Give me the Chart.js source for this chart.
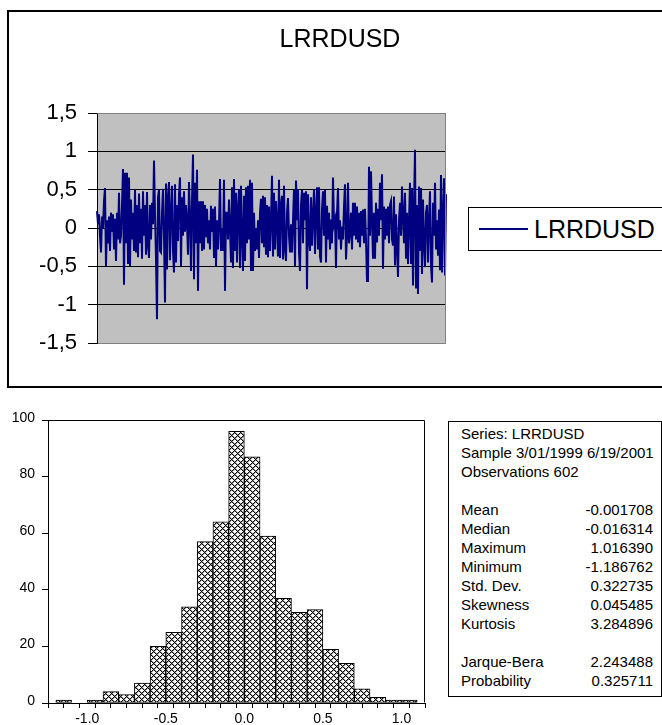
<!DOCTYPE html>
<html>
<head>
<meta charset="utf-8">
<title>LRRDUSD</title>
<script src="https://cdn.jsdelivr.net/npm/chart.js@4.4.1/dist/chart.umd.min.js"></script>
<style>
  body {
    margin: 0;
    width: 662px;
    height: 725px;
    overflow: hidden;
    position: relative;
    background: #fff;
    font-family: "Liberation Sans", Arial, sans-serif;
    color: #000;
  }
  .abs { position: absolute; }
  #topFrame {
    left: 7px; top: 10px; width: 720px; height: 378px;
    box-sizing: border-box; border: 2px solid #000;
  }
  #legendBox {
    left: 468px; top: 207px; width: 220px; height: 44px;
    box-sizing: border-box; border: 1px solid #000; background: #fff;
  }
  #legendLine { left: 10px; top: 20px; width: 49px; height: 2px; background: #000080; }
  #legendText { left: 65px; top: 0; line-height: 42px; font-size: 25px; }
  #statsBox {
    left: 448px; top: 421px; width: 214px; height: 276px;
    box-sizing: border-box; border: 1px solid #000;
  }
  #statsRows { left: 461px; top: 424px; width: 192px; font-size: 15px; }
  .row { height: 19px; line-height: 19px; position: relative; white-space: nowrap; }
  .row .v { position: absolute; right: 0; top: 0; }
</style>
</head>
<body>

<div id="topFrame" class="abs"></div>
<div class="abs" style="left:0; top:0; width:680px; height:390px;">
  <canvas id="lineChart" width="680" height="390"></canvas>
</div>
<div id="legendBox" class="abs">
  <div id="legendLine" class="abs"></div>
  <div id="legendText" class="abs">LRRDUSD</div>
</div>

<div class="abs" style="left:0; top:390px; width:440px; height:335px;">
  <canvas id="histChart" width="440" height="335"></canvas>
</div>
<div id="statsBox" class="abs"></div>
<div id="statsRows" class="abs"></div>

<script>
Chart.defaults.font.family = '"Liberation Sans", Arial, sans-serif';
Chart.defaults.color = '#000';

// Top chart: LRRDUSD series (one value per pixel column)
const seriesName = 'LRRDUSD';
const lrrdusd = [
  0.22, 0.05, 0.18, -0.1, -0.32, 0.15, 0.0, 0.35, 0.52, -0.5,
  0.1, -0.2, 0.15, -0.3, 0.2, -0.05, 0.18, -0.28, 0.12, -0.43,
  0.2, -0.15, 0.46, -0.2, -0.1, 0.3, 0.77, -0.74, 0.72, -0.2,
  0.72, -0.47, 0.66, -0.5, 0.37, -0.15, 0.2, -0.3, 0.5, -0.32,
  0.3, -0.38, 0.45, -0.2, 0.25, -0.4, 0.48, -0.1, 0.3, -0.35,
  0.47, -0.22, -0.39, 0.3, -0.15, 0.33, 0.05, 0.88, 0.2, -0.4,
  -1.19, 0.4, 0.5, -0.3, -0.32, 0.2, 0.51, -0.1, -0.97, 0.58,
  -0.54, 0.4, 0.6, -0.42, 0.2, 0.55, -0.3, -0.58, 0.57, -0.45,
  0.3, -0.17, 0.44, 0.66, -0.5, 0.4, -0.1, 0.48, -0.05, 0.3,
  0.07, -0.35, 0.6, 0.15, -0.56, 0.35, 0.96, -0.67, 0.59, -0.2,
  0.76, -0.82, 0.35, -0.2, 0.35, -0.3, 0.35, -0.28, 0.3, -0.12,
  0.25, -0.2, 0.1, -0.28, 0.29, -0.05, 0.25, -0.39, 0.28, -0.5,
  0.1, -0.28, 0.05, 0.64, -0.3, 0.0, -0.3, 0.63, -0.82, 0.2,
  0.2, -0.15, 0.37, 0.0, -0.45, 0.53, -0.52, 0.64, -0.3, 0.46,
  -0.45, 0.25, 0.5, -0.52, 0.55, -0.1, -0.56, 0.42, -0.43, 0.53,
  -0.2, 0.55, -0.15, 0.63, -0.56, 0.59, -0.56, 0.2, -0.3, 0.0,
  -0.28, 0.1, -0.39, 0.2, 0.38, -0.2, 0.42, -0.25, 0.4, -0.35,
  0.3, -0.38, 0.28, -0.3, 0.1, 0.68, -0.37, 0.46, -0.28, 0.35,
  0.07, -0.37, 0.63, -0.39, 0.3, 0.42, -0.41, 0.55, -0.28, -0.43,
  0.2, 0.39, -0.1, -0.32, 0.05, -0.32, 0.1, 0.5, -0.5, 0.62,
  0.1, 0.5, -0.32, -0.56, 0.3, 0.5, -0.2, 0.46, 0.1, 0.48,
  -0.8, 0.44, -0.15, -0.3, 0.4, -0.23, 0.16, 0.5, -0.34, 0.2,
  0.53, -0.28, 0.53, -0.37, -0.45, 0.24, 0.48, -0.1, 0.5, -0.45,
  0.29, -0.15, 0.2, -0.28, 0.11, -0.2, 0.66, 0.05, 0.11, -0.52,
  0.2, 0.52, -0.15, 0.1, -0.28, 0.02, -0.15, 0.29, 0.57, -0.41,
  -0.1, 0.59, -0.2, -0.06, 0.2, -0.28, 0.33, -0.1, 0.33, -0.15,
  0.28, -0.19, 0.2, -0.25, 0.22, -0.1, 0.24, -0.2, 0.25, -0.15,
  -0.69, -0.69, 0.8, -0.1, 0.74, 0.1, -0.4, 0.2, -0.4, 0.33,
  -0.19, 0.25, -0.1, 0.59, 0.1, 0.7, -0.53, 0.28, -0.15, 0.25,
  -0.1, 0.28, -0.2, 0.3, 0.35, -0.15, -0.23, 0.41, -0.49, 0.18,
  -0.23, -0.64, 0.1, 0.33, -0.1, 0.54, 0.15, -0.2, 0.46, -0.4,
  0.2, -0.47, 0.1, 0.59, -0.47, 0.52, -0.75, 0.3, 1.02, -0.79,
  0.3, -0.86, 0.54, -0.3, 0.52, -0.6, 0.37, -0.2, -0.51, 0.2,
  0.3, -0.45, 0.1, 0.48, -0.49, -0.71, 0.33, -0.1, 0.59, -0.28,
  0.1, -0.36, 0.24, -0.55, 0.69, -0.58, 0.2, 0.65, -0.62, 0.44
];
const topTicks = [-1.5, -1, -0.5, 0, 0.5, 1, 1.5];
const topTickLabels = ['-1,5', '-1', '-0,5', '0', '0,5', '1', '1,5'];

// Bottom chart: histogram (bin centres, bin edges, counts)
const histBins = [-1.15, -1.05, -0.95, -0.85, -0.75, -0.65, -0.55, -0.45, -0.35, -0.25, -0.15, -0.05,
                  0.05, 0.15, 0.25, 0.35, 0.45, 0.55, 0.65, 0.75, 0.85, 0.95, 1.05];
const histCounts = [1, 0, 1, 4, 3, 7, 20, 25, 34, 57, 64, 96, 87, 59, 37, 32, 33, 19, 14, 5, 2, 1, 1];
const histEdges = [-1.2, -1.1, -1.0, -0.9, -0.8, -0.7, -0.6, -0.5, -0.4, -0.3, -0.2, -0.1,
                   0, 0.1, 0.2, 0.3, 0.4, 0.5, 0.6, 0.7, 0.8, 0.9, 1.0, 1.1];
const histMajor = [-1.0, -0.5, 0.0, 0.5, 1.0];

// Descriptive statistics
const statsHeader = ['Series: LRRDUSD', 'Sample 3/01/1999 6/19/2001', 'Observations 602'];
const statsLabels = ['Mean', 'Median', 'Maximum', 'Minimum', 'Std. Dev.', 'Skewness', 'Kurtosis', '', 'Jarque-Bera', 'Probability'];
const statsValues = ['-0.001708', '-0.016314', '1.016390', '-1.186762', '0.322735', '0.045485', '3.284896', '', '2.243488', '0.325711'];

// background fill + frame for the plot area
const plotArea = {
  id: 'plotArea',
  beforeDraw(chart, args, opts) {
    if (!opts.fill) return;
    const { ctx, chartArea: a } = chart;
    ctx.save();
    ctx.fillStyle = opts.fill;
    ctx.fillRect(a.left, a.top, a.right - a.left, a.bottom - a.top);
    ctx.restore();
  },
  afterDatasetsDraw(chart, args, opts) {
    if (!opts.frame) return;
    const { ctx, chartArea: a } = chart;
    const l = Math.round(a.left) + 0.5, r = Math.round(a.right) - 0.5;
    const t = Math.round(a.top) + 0.5, b = Math.round(a.bottom) - 0.5;
    ctx.save();
    ctx.strokeStyle = opts.frame;
    ctx.lineWidth = 1;
    ctx.beginPath();
    ctx.moveTo(l, t); ctx.lineTo(r, t); ctx.lineTo(r, b);
    if (opts.full) { ctx.lineTo(l, b); ctx.closePath(); }
    ctx.stroke();
    ctx.restore();
  }
};

// ---- line chart ----
new Chart(document.getElementById('lineChart'), {
  type: 'line',
  data: {
    labels: lrrdusd.map((_, i) => i + 1),
    datasets: [{
      label: seriesName,
      data: lrrdusd,
      borderColor: '#000080',
      borderWidth: 2,
      pointRadius: 0,
      tension: 0,
      fill: false
    }]
  },
  options: {
    responsive: false,
    animation: false,
    layout: { padding: { left: 0, right: 0, top: 0, bottom: 47 } },
    scales: {
      x: { type: 'category', display: false, offset: false },
      y: {
        min: -1.5,
        max: 1.5,
        ticks: {
          stepSize: 0.5,
          padding: 11,
          font: { size: 22 },
          color: '#000',
          callback: v => topTickLabels[topTicks.indexOf(v)]
        },
        grid: {
          color: c => (c.tick && Math.abs(c.tick.value) === 1.5) ? '#808080' : '#000',
          tickColor: '#000',
          tickLength: 9,
          lineWidth: 1
        },
        border: { display: true, color: '#000', width: 1 },
        afterFit: s => { s.width = 97; }
      },
      // empty right axis keeps room for the legend, so the title stays centred on the frame
      yRight: {
        position: 'right',
        display: true,
        grid: { display: false },
        border: { display: false },
        ticks: { display: false },
        afterFit: s => { s.width = 234; }
      }
    },
    plugins: {
      legend: { display: false },
      tooltip: { enabled: false },
      title: {
        display: true,
        text: seriesName,
        color: '#000',
        font: { size: 25, weight: 'normal' },
        padding: { top: 25, bottom: 58 }
      },
      plotArea: { fill: '#C0C0C0', frame: '#808080' }
    }
  },
  plugins: [plotArea]
});

// ---- histogram ----
// cross-hatch tile: 1px black diagonals with a grey shoulder
function crossHatch() {
  const p = 6;
  const c = document.createElement('canvas');
  c.width = p; c.height = p;
  const g = c.getContext('2d');
  g.fillStyle = '#fff';
  g.fillRect(0, 0, p, p);
  g.fillStyle = '#999';
  for (let i = 0; i < p; i++) {
    g.fillRect((i + 1) % p, i, 1, 1);
    g.fillRect((p - i + 1) % p, i, 1, 1);
  }
  g.fillStyle = '#000';
  for (let i = 0; i < p; i++) {
    g.fillRect(i, i, 1, 1);
    g.fillRect((p - i) % p, i, 1, 1);
  }
  return g.createPattern(c, 'repeat');
}

new Chart(document.getElementById('histChart'), {
  type: 'bar',
  data: {
    datasets: [{
      data: histBins.map((x, i) => ({ x: x, y: histCounts[i] })),
      backgroundColor: crossHatch(),
      borderColor: '#000',
      borderWidth: 1,
      borderSkipped: false,
      barPercentage: 1,
      categoryPercentage: 1
    }]
  },
  options: {
    responsive: false,
    animation: false,
    layout: { padding: { left: 0, right: 15, top: 30, bottom: 0 } },
    scales: {
      x: {
        type: 'linear',
        min: -1.25,
        max: 1.15,
        offset: false,
        afterBuildTicks: axis => { axis.ticks = histEdges.map(v => ({ value: v })); },
        ticks: {
          autoSkip: false,
          maxRotation: 0,
          padding: 3,
          font: { size: 14 },
          color: '#000',
          callback: v => histMajor.some(m => Math.abs(m - v) < 1e-9) ? v.toFixed(1) : ''
        },
        grid: { drawOnChartArea: false, tickLength: 5, color: '#000' },
        border: { display: true, color: '#000' },
        afterFit: s => { s.height = 22; }
      },
      y: {
        min: 0,
        max: 100,
        ticks: {
          stepSize: 20,
          padding: 7,
          labelOffset: -2,
          font: { size: 14 },
          color: '#000'
        },
        grid: { drawOnChartArea: false, tickLength: 6, color: '#000' },
        border: { display: true, color: '#000' },
        afterFit: s => { s.width = 48; }
      }
    },
    plugins: {
      legend: { display: false },
      tooltip: { enabled: false },
      plotArea: { frame: '#000' }
    }
  },
  plugins: [plotArea]
});

// ---- statistics panel ----
const rows = document.getElementById('statsRows');
const addRow = (label, value) => {
  const d = document.createElement('div');
  d.className = 'row';
  d.textContent = label;
  if (value) {
    const v = document.createElement('span');
    v.className = 'v';
    v.textContent = value;
    d.appendChild(v);
  }
  rows.appendChild(d);
};
statsHeader.forEach(t => addRow(t));
addRow('');
statsLabels.forEach((t, i) => addRow(t, statsValues[i]));
</script>
</body>
</html>
